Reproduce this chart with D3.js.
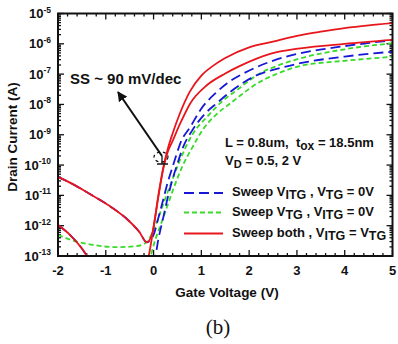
<!DOCTYPE html>
<html>
<head>
<meta charset="utf-8">
<script src="https://cdn.jsdelivr.net/npm/d3@7"></script>
<style>
body { margin: 0; background: #fff; }
text { font-family: "Liberation Sans", Arial, sans-serif; font-weight: bold; fill: #111; white-space: pre; }
</style>
</head>
<body>
<script>
// data: [gate voltage (V), log10 drain current (A)]
var redVd2 = [[-2,-10.39],[-1.7,-10.62],[-1.36,-10.93],[-0.95,-11.32],[-0.53,-11.82],[-0.3,-12.2],[-0.14,-12.55],[-0.02,-12.2],[0.1,-11.0],[0.2,-10.1],[0.3,-9.45],[0.4,-8.95],[0.55,-8.3],[0.75,-7.6],[1.0,-7.05],[1.25,-6.72],[1.5,-6.47],[2.0,-6.12],[2.5,-5.93],[3.0,-5.74],[3.5,-5.6],[4.0,-5.48],[4.5,-5.39],[5.0,-5.32]];
var redVd05 = [[-2,-11.98],[-1.75,-12.3],[-1.5,-12.75],[-1.37,-13.05],[-1.2,-13.4],[-0.3,-13.6],[-0.11,-13.05],[0,-12.05],[0.1,-11.05],[0.2,-10.15],[0.3,-9.55],[0.38,-9.27],[0.56,-8.62],[0.77,-7.96],[1.12,-7.36],[1.5,-6.98],[1.82,-6.72],[2.44,-6.33],[3.07,-6.15],[4.0,-6.0],[5.0,-5.87]];
var blueVd2 = [[-2,-10.39],[-1.7,-10.62],[-1.36,-10.93],[-0.95,-11.32],[-0.53,-11.82],[-0.3,-12.2],[-0.14,-12.55],[0,-12.3],[0.1,-11.75],[0.2,-11.15],[0.3,-10.55],[0.4,-10.05],[0.49,-9.6],[0.56,-9.28],[0.77,-8.74],[0.98,-8.18],[1.33,-7.58],[1.54,-7.3],[1.82,-7.03],[2.17,-6.76],[2.44,-6.59],[3.07,-6.31],[3.8,-6.12],[4.47,-5.98],[5.0,-5.88]];
var blueVd05 = [[-2,-11.98],[-1.75,-12.3],[-1.5,-12.75],[-1.37,-13.05],[-1.2,-13.4],[-0.2,-13.6],[0.03,-13.05],[0.1,-12.45],[0.2,-11.75],[0.3,-11.05],[0.4,-10.45],[0.5,-9.95],[0.62,-9.4],[0.8,-8.88],[1.05,-8.35],[1.33,-7.95],[1.61,-7.58],[2.17,-7.03],[2.6,-6.82],[3.07,-6.64],[4.0,-6.42],[5.0,-6.26]];
var greenVd2 = [[-2,-12.31],[-1.6,-12.53],[-1.2,-12.65],[-0.8,-12.71],[-0.4,-12.68],[-0.2,-12.6],[-0.1,-12.45],[0,-12.15],[0.2,-11.3],[0.4,-10.45],[0.55,-9.85],[0.66,-9.45],[0.85,-8.9],[1.12,-8.41],[1.4,-7.95],[1.75,-7.52],[2.23,-6.97],[2.6,-6.72],[3.07,-6.48],[4.0,-6.18],[5.0,-5.98]];
var greenVd05 = [[-0.3,-13.6],[-0.07,-13.05],[0,-12.65],[0.2,-11.75],[0.4,-10.85],[0.6,-10.05],[0.8,-9.45],[1.05,-8.79],[1.3,-8.35],[1.61,-7.96],[2.23,-7.25],[2.6,-6.98],[3.07,-6.73],[4.0,-6.56],[5.0,-6.43]];

var xTicks = [-2, -1, 0, 1, 2, 3, 4, 5];
var yExps = [-13, -12, -11, -10, -9, -8, -7, -6, -5];
var legendLabels = [
  ["Sweep V", "ITG", " , V", "TG", " = 0V"],
  ["Sweep V", "TG", " , V", "ITG", " = 0V"],
  ["Sweep both , V", "ITG", " = V", "TG", ""]
];

var width = 398, height = 344;
var margin = {top: 13.5, right: 5.5, bottom: 88, left: 58};
var red = "#e8161c", blue = "#1717d6", green = "#3ada2a";

var svg = d3.select("body").append("svg")
    .attr("width", width).attr("height", height);

var x = d3.scaleLinear().domain([-2, 5]).range([margin.left, width - margin.right]);
var y = d3.scaleLog().domain([1e-13, 1e-5]).range([height - margin.bottom, margin.top]);

svg.append("clipPath").attr("id", "clip")
  .append("rect")
    .attr("x", margin.left).attr("y", margin.top)
    .attr("width", width - margin.right - margin.left)
    .attr("height", height - margin.bottom - margin.top);

// ticks
var minorX = d3.range(-2, 5.001, 0.2);
var minorY = [];
yExps.slice(0, -1).forEach(function(e) {
  for (var k = 1; k < 10; k++) minorY.push(k * Math.pow(10, e));
});
minorY.push(1e-5);

var tk = svg.append("g").attr("stroke", "#111").attr("stroke-width", 1.3);
minorX.forEach(function(v) {
  var major = Math.abs(v - Math.round(v)) < 1e-6;
  var len = major ? 6 : 3;
  tk.append("line").attr("x1", x(v)).attr("x2", x(v))
    .attr("y1", y(1e-13)).attr("y2", y(1e-13) - len);
  tk.append("line").attr("x1", x(v)).attr("x2", x(v))
    .attr("y1", y(1e-5)).attr("y2", y(1e-5) + len);
});
minorY.forEach(function(v) {
  var major = Math.abs(Math.log10(v) - Math.round(Math.log10(v))) < 1e-6;
  var len = major ? 6 : 3;
  tk.append("line").attr("x1", x(-2)).attr("x2", x(-2) + len)
    .attr("y1", y(v)).attr("y2", y(v));
  tk.append("line").attr("x1", x(5)).attr("x2", x(5) - len)
    .attr("y1", y(v)).attr("y2", y(v));
});

// curves
var line = d3.line()
    .x(function(d) { return x(d[0]); })
    .y(function(d) { return y(Math.pow(10, d[1])); })
    .curve(d3.curveMonotoneX);

var plot = svg.append("g").attr("clip-path", "url(#clip)").attr("fill", "none");
var series = [
  {data: greenVd05, color: green, dash: "5,3"},
  {data: greenVd2, color: green, dash: "5,3"},
  {data: blueVd05, color: blue, dash: "10,5"},
  {data: blueVd2, color: blue, dash: "10,5"},
  {data: redVd05, color: red, dash: null},
  {data: redVd2, color: red, dash: null}
];
series.forEach(function(s) {
  plot.append("path")
    .attr("d", line(s.data))
    .attr("stroke", s.color)
    .attr("stroke-width", 1.8)
    .attr("stroke-dasharray", s.dash);
});

// frame
svg.append("rect")
    .attr("x", margin.left).attr("y", margin.top)
    .attr("width", width - margin.right - margin.left)
    .attr("height", height - margin.bottom - margin.top)
    .attr("fill", "none").attr("stroke", "#111").attr("stroke-width", 2);

// tick labels
svg.selectAll(".xl").data(xTicks).enter().append("text")
    .attr("x", function(d) { return x(d); })
    .attr("y", 275)
    .attr("text-anchor", "middle")
    .attr("font-size", 13)
    .text(function(d) { return d < 0 ? "-" + Math.abs(d) : d; });

var yl = svg.selectAll(".yl").data(yExps).enter().append("text")
    .attr("x", 51)
    .attr("y", function(d) { return y(Math.pow(10, d)) + 4.5; })
    .attr("text-anchor", "end")
    .attr("font-size", 13);
yl.append("tspan").text("10");
yl.append("tspan").attr("dy", -5.5).attr("font-size", 8.5).text(function(d) { return d; });

// axis titles
svg.append("text")
    .attr("x", 227).attr("y", 297)
    .attr("text-anchor", "middle").attr("font-size", 13.5)
    .text("Gate Voltage (V)");
svg.append("text")
    .attr("transform", "translate(17,137) rotate(-90)")
    .attr("text-anchor", "middle").attr("font-size", 13.5)
    .text("Drain Current (A)");

svg.append("text")
    .attr("x", 218).attr("y", 334)
    .attr("text-anchor", "middle")
    .style("font-family", "'Liberation Serif', 'Times New Roman', serif")
    .style("font-weight", "normal")
    .attr("font-size", 21)
    .text("(b)");

// annotation
svg.append("text").attr("x", 70).attr("y", 84).attr("font-size", 15)
    .text("SS ~ 90 mV/dec");

svg.append("defs").append("marker")
    .attr("id", "arrow").attr("viewBox", "0 0 10 10")
    .attr("refX", 9).attr("refY", 5)
    .attr("markerWidth", 5).attr("markerHeight", 5)
    .attr("orient", "auto")
  .append("path").attr("d", "M0,0L10,5L0,10z").attr("fill", "#111");

svg.append("line")
    .attr("x1", 162).attr("y1", 156).attr("x2", 118).attr("y2", 92)
    .attr("stroke", "#111").attr("stroke-width", 2)
    .attr("marker-end", "url(#arrow)");
svg.append("ellipse")
    .attr("cx", 161).attr("cy", 157).attr("rx", 7).attr("ry", 5)
    .attr("fill", "none").attr("stroke", "#111").attr("stroke-width", 1.2)
    .attr("stroke-dasharray", "3,3");
svg.append("line")
    .attr("x1", 162).attr("y1", 156).attr("x2", 162).attr("y2", 164)
    .attr("stroke", "#111").attr("stroke-width", 1.3);
svg.append("line")
    .attr("x1", 157).attr("y1", 164).attr("x2", 168).attr("y2", 164)
    .attr("stroke", "#111").attr("stroke-width", 1.5);

var info = svg.append("text").attr("x", 225).attr("y", 147).attr("font-size", 13);
info.append("tspan").text("L = 0.8um,  t");
info.append("tspan").attr("dy", 3).attr("font-size", 12).text("ox");
info.append("tspan").attr("dy", -3).text(" = 18.5nm");
var vd = svg.append("text").attr("x", 225).attr("y", 165).attr("font-size", 13);
vd.append("tspan").text("V");
vd.append("tspan").attr("dy", 3).attr("font-size", 11).text("D");
vd.append("tspan").attr("dy", -3).text(" = 0.5, 2 V");

// legend
var legY = [193, 212.5, 233.5];
var legStyle = [[blue, "10,5"], [green, "5,3"], [red, null]];
legendLabels.forEach(function(parts, i) {
  svg.append("line")
    .attr("x1", 184).attr("x2", 223)
    .attr("y1", legY[i]).attr("y2", legY[i])
    .attr("stroke", legStyle[i][0]).attr("stroke-width", 1.8)
    .attr("stroke-dasharray", legStyle[i][1]);
  var t = svg.append("text").attr("x", 232).attr("y", legY[i] + 3).attr("font-size", 13);
  parts.forEach(function(p, j) {
    if (!p) return;
    var sp = t.append("tspan").text(p);
    if (j % 2 === 1) sp.attr("dy", 3).attr("font-size", 12.5);
    else if (j > 0) sp.attr("dy", -3);
  });
});
</script>
</body>
</html>
